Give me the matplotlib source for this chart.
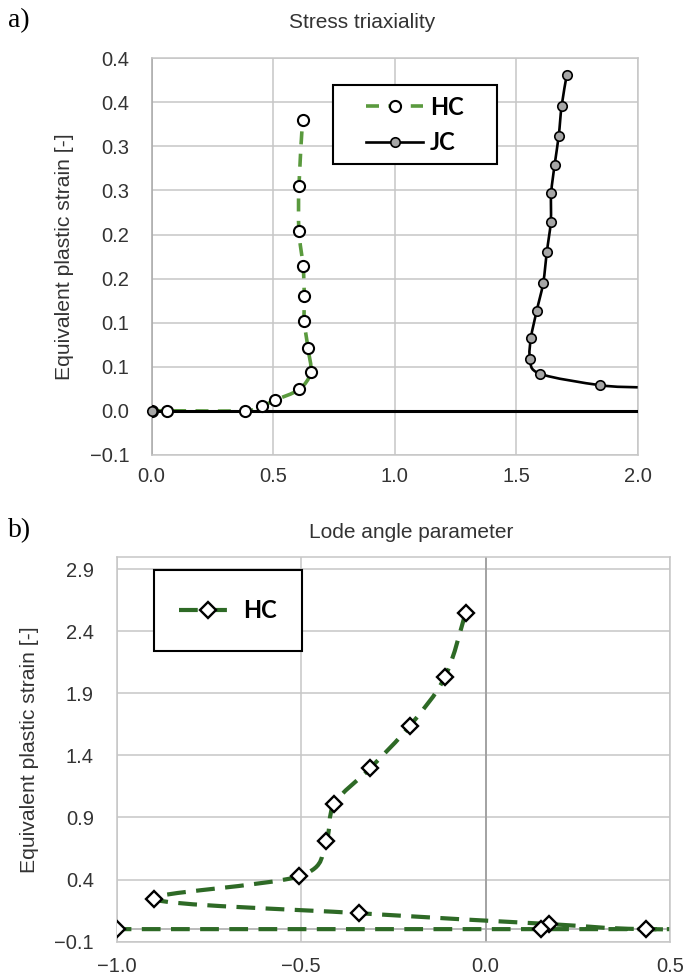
import numpy as np
import matplotlib
matplotlib.use("Agg")
import matplotlib.pyplot as plt
from matplotlib.path import Path
from matplotlib.patches import PathPatch, Rectangle
from matplotlib.lines import Line2D

# --- data ---
# a) stress triaxiality vs equivalent plastic strain
hc_a_x = [0.0, 0.062, 0.384, 0.453, 0.507, 0.607, 0.654, 0.643, 0.628, 0.628, 0.623, 0.606, 0.606, 0.621]
hc_a_y = [0.0, 0.0, 0.0, 0.0053, 0.012, 0.0243, 0.0436, 0.0712, 0.1015, 0.130, 0.164, 0.204, 0.255, 0.330]
jc_a_x = [1.708, 1.687, 1.675, 1.658, 1.644, 1.642, 1.626, 1.611, 1.584, 1.561, 1.557, 1.598, 1.845, 2.0]
jc_a_y = [0.381, 0.346, 0.312, 0.279, 0.247, 0.214, 0.180, 0.145, 0.113, 0.083, 0.059, 0.042, 0.029, 0.0266]
jc_a_marked = 13          # last JC point only continues the curve out of view
jc_origin = (0.0, 0.0)

a_xticks = [0.0, 0.5, 1.0, 1.5, 2.0]
a_xlabels = ["0.0", "0.5", "1.0", "1.5", "2.0"]
a_yticks = [-0.05, 0.0, 0.05, 0.1, 0.15, 0.2, 0.25, 0.3, 0.35, 0.4]
a_ylabels = ["\u22120.1", "0.0", "0.1", "0.1", "0.2", "0.2", "0.3", "0.3", "0.4", "0.4"]

# b) Lode angle parameter vs equivalent plastic strain
hc_b_x = [-0.054, -0.110, -0.205, -0.313, -0.410, -0.433, -0.505, -0.898, -0.342, 0.172, 0.435, 1.0, 0.151, -1.0]
hc_b_y = [2.551, 2.034, 1.640, 1.297, 1.011, 0.708, 0.427, 0.242, 0.128, 0.041, 0.0, 0.0, 0.0, 0.0]

b_xticks = [-1.0, -0.5, 0.0, 0.5]
b_xlabels = ["\u22121.0", "\u22120.5", "0.0", "0.5"]
b_yticks = [-0.1, 0.4, 0.9, 1.4, 1.9, 2.4, 2.9]
b_ylabels = ["\u22120.1", "0.4", "0.9", "1.4", "1.9", "2.4", "2.9"]

GREEN_A = "#5a9a3e"
GREEN_B = "#2e6a26"
GRID = "#c6c6c6"
TXT = "#333333"

plt.rcParams["font.family"] = ["Liberation Sans", "DejaVu Sans"]


def smooth_path(x, y):
    # Excel-like smoothed line: Catmull-Rom segments as cubic Beziers
    pts = np.column_stack([x, y]).astype(float)
    n = len(pts)
    verts = [pts[0]]
    codes = [Path.MOVETO]
    for i in range(n - 1):
        p0 = pts[i - 1] if i > 0 else pts[i]
        p1, p2 = pts[i], pts[i + 1]
        p3 = pts[i + 2] if i + 2 < n else pts[i + 1]
        verts += [p1 + (p2 - p0) / 6, p2 - (p3 - p1) / 6, p2]
        codes += [Path.CURVE4] * 3
    return Path(verts, codes)


def style_axes(ax, xticks, xlabels, yticks, ylabels, xpad, ypad):
    ax.set_xticks(xticks)
    ax.set_xticklabels(xlabels)
    ax.set_yticks(yticks)
    ax.set_yticklabels(ylabels)
    ax.tick_params(length=0, labelsize=14.5, labelcolor=TXT)
    ax.tick_params(axis="x", pad=xpad)
    ax.tick_params(axis="y", pad=ypad)
    ax.grid(True, color=GRID, lw=1.1)
    ax.set_axisbelow(True)
    for s in ax.spines.values():
        s.set_color(GRID)
        s.set_linewidth(1.1)


fig = plt.figure(figsize=(6.86, 9.77), dpi=100)

# ---------------- a) ----------------
ax1 = fig.add_axes([0.2211, 0.5345, 0.7085, 0.4058])
ax1.set_xlim(0, 2.0)
ax1.set_ylim(-0.05, 0.4)
style_axes(ax1, a_xticks, a_xlabels, a_yticks, a_ylabels, 9, 16)
ax1.spines["left"].set_color("#a8a8a8")

ax1.add_patch(PathPatch(smooth_path(hc_a_x, hc_a_y), fill=False, edgecolor=GREEN_A,
                        lw=2.6, linestyle=(0, (3.6, 2.6)), zorder=2, capstyle="butt"))
ax1.axhline(0, color="black", lw=2.2, zorder=3)
ax1.add_patch(PathPatch(smooth_path(jc_a_x, jc_a_y), fill=False, edgecolor="black",
                        lw=1.9, zorder=3))
ax1.plot(hc_a_x, hc_a_y, ls="none", marker="o", ms=8, mfc="white", mec="black",
         mew=1.5, zorder=4)
ax1.plot(jc_a_x[:jc_a_marked], jc_a_y[:jc_a_marked], ls="none", marker="o", ms=6.8,
         mfc="#a6a6a6", mec="black", mew=1.2, zorder=5)
ax1.plot([jc_origin[0]], [jc_origin[1]], ls="none", marker="o", ms=6.8,
         mfc="#a6a6a6", mec="black", mew=1.2, zorder=5, clip_on=False)

ax1.set_ylabel("Equivalent plastic strain [-]", fontsize=15.2, color=TXT)
ax1.yaxis.set_label_coords(-0.16, 0.5)

h_hc = Line2D([], [], color=GREEN_A, lw=2.6, ls=(0, (3.6, 2.6)), marker="o", ms=8,
              mfc="white", mec="black", mew=1.5)
h_jc = Line2D([], [], color="black", lw=1.9, marker="o", ms=6.8,
              mfc="#a6a6a6", mec="black", mew=1.2)
fig.patches.append(Rectangle((333 / 686, 1 - 164 / 977), 164 / 686, 79 / 977,
                             transform=fig.transFigure, fill=True, facecolor="white",
                             edgecolor="black", lw=1.5, zorder=5))
fig.legend([h_hc, h_jc], ["HC", "JC"], loc="center", bbox_to_anchor=(415 / 686, 1 - 125 / 977),
           frameon=False, handlelength=2.4, handletextpad=0.3, labelspacing=0.55,
           prop={"family": "Lato", "weight": "bold", "size": 17})

fig.text(362 / 686, 1 - 22 / 977, "Stress triaxiality", ha="center", va="center",
         fontsize=15, color=TXT)
fig.text(8 / 686, 1 - 21 / 977, "a)", ha="left", va="center", fontsize=20,
         family="Liberation Serif")

# ---------------- b) ----------------
ax2 = fig.add_axes([0.1701, 0.0363, 0.8066, 0.3936])
ax2.set_xlim(-1.0, 0.5)
ax2.set_ylim(-0.1, 3.0)
style_axes(ax2, b_xticks, b_xlabels, b_yticks, b_ylabels, 11, 16.5)
ax2.axhline(0, color="#a8a8a8", lw=1.1, zorder=1)
ax2.axvline(0, color="#a0a0a0", lw=1.3, zorder=1)

ax2.add_patch(PathPatch(smooth_path(hc_b_x, hc_b_y), fill=False, edgecolor=GREEN_B,
                        lw=3.0, linestyle=(0, (4.5, 2.5)), zorder=2, capstyle="butt"))
ax2.plot(hc_b_x, hc_b_y, ls="none", marker="D", ms=8.5, mfc="white", mec="black",
         mew=1.7, zorder=4, clip_on=True)

ax2.set_ylabel("Equivalent plastic strain [-]", fontsize=15.2, color=TXT)
ax2.yaxis.set_label_coords(-0.14, 0.5)

h_hc_b = Line2D([], [], color=GREEN_B, lw=3.0, ls=(0, (4.5, 2.5)), marker="D", ms=8.5,
                mfc="white", mec="black", mew=1.7)
fig.patches.append(Rectangle((154 / 686, 1 - 651 / 977), 148 / 686, 81 / 977,
                             transform=fig.transFigure, fill=True, facecolor="white",
                             edgecolor="black", lw=1.5, zorder=5))
fig.legend([h_hc_b], ["HC"], loc="center", bbox_to_anchor=(228 / 686, 1 - 610.5 / 977),
           frameon=False, handlelength=2.4, handletextpad=0.3,
           prop={"family": "Lato", "weight": "bold", "size": 17})

fig.text(411 / 686, 1 - 532 / 977, "Lode angle parameter", ha="center", va="center",
         fontsize=15, color=TXT)
fig.text(8 / 686, 1 - 531 / 977, "b)", ha="left", va="center", fontsize=20,
         family="Liberation Serif")

fig.savefig("out.png", dpi=100)
